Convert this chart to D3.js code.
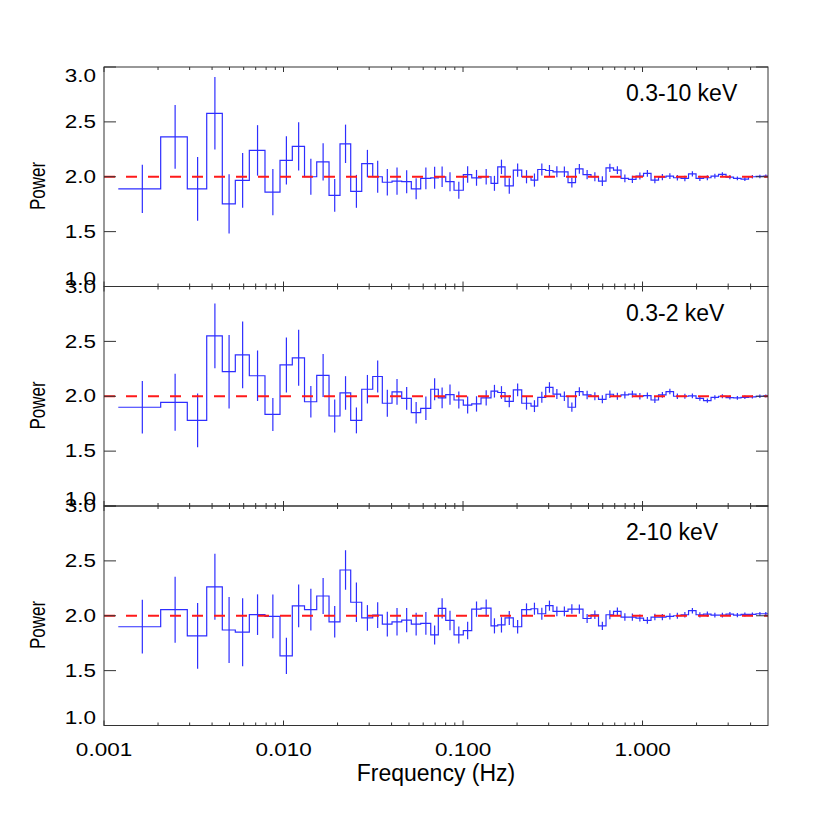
<!DOCTYPE html>
<html><head><meta charset="utf-8">
<script src="https://cdn.jsdelivr.net/npm/d3@7/dist/d3.min.js"></script>
<style>body{margin:0;background:#fff}svg{display:block}</style>
</head><body>
<svg id="c" width="830" height="830"></svg>
<script>
// Frequency bin edges (Hz), shared by all three panels
const binEdges = [0.001201, 0.002069, 0.002911, 0.003734, 0.004561, 0.005389, 0.006450, 0.007885, 0.009561, 0.011194,
  0.013092, 0.015311, 0.017930, 0.020641, 0.023678, 0.027271, 0.031406, 0.035521, 0.040225, 0.045551,
  0.051523, 0.058102, 0.066098, 0.072857, 0.080113, 0.089105, 0.10039, 0.11182, 0.12598, 0.14322,
  0.15609, 0.17140, 0.19063, 0.21232, 0.23923, 0.26073, 0.28888, 0.31721, 0.34934, 0.38459,
  0.42332, 0.46614, 0.51646, 0.56864, 0.62607, 0.68944, 0.75909, 0.83560, 0.92000, 1.0130,
  1.1152, 1.2279, 1.3519, 1.4884, 1.6386, 1.8043, 1.9866, 2.1866, 2.4078, 2.6508,
  2.9187, 3.2137, 3.5376, 3.8953, 4.2886, 4.7218, 5.0];

const panelLabels = ["0.3-10 keV", "0.3-2 keV", "2-10 keV"];

const power1 = [1.89, 2.364, 1.89, 2.578, 1.753, 1.967, 2.24, 1.86, 2.15, 2.277,
  2.0, 2.135, 1.83, 2.30, 1.867, 2.12, 2.0, 1.95, 1.96, 1.955,
  1.89, 1.985, 1.99, 2.0, 1.955, 1.877, 2.02, 1.99, 2.0, 1.94,
  2.09, 1.916, 2.06, 2.0, 1.97, 2.066, 2.057, 2.045, 2.045, 1.946,
  2.072, 2.02, 2.0, 1.96, 2.081, 2.06, 1.985, 1.976, 2.006, 2.03,
  1.97, 1.997, 2.006, 1.991, 1.985, 2.027, 1.985, 1.991, 2.006, 2.021,
  1.997, 1.985, 1.979, 2.0, 2.003, 2.006];
const err1 = [0.22, 0.29, 0.29, 0.33, 0.27, 0.25, 0.23, 0.21, 0.22, 0.22,
  0.163, 0.17, 0.15, 0.175, 0.15, 0.125, 0.145, 0.12, 0.125, 0.105,
  0.096, 0.10, 0.10, 0.093, 0.087, 0.078, 0.075, 0.072, 0.07, 0.068,
  0.066, 0.07, 0.06, 0.06, 0.06, 0.054, 0.05, 0.05, 0.048, 0.045,
  0.045, 0.042, 0.04, 0.045, 0.038, 0.036, 0.035, 0.034, 0.032, 0.031,
  0.03, 0.028, 0.027, 0.026, 0.025, 0.024, 0.023, 0.022, 0.021, 0.02,
  0.019, 0.018, 0.017, 0.016, 0.016, 0.015];

const power2 = [1.90, 1.945, 1.78, 2.55, 2.224, 2.377, 2.187, 1.834, 2.285, 2.35,
  1.95, 2.19, 1.82, 2.03, 1.78, 2.064, 2.18, 1.936, 2.04, 1.98,
  1.85, 1.89, 2.064, 1.985, 2.015, 1.966, 1.92, 1.93, 1.985, 2.046,
  2.034, 1.954, 2.058, 1.936, 1.91, 1.99, 2.08, 2.02, 2.0, 1.90,
  2.043, 2.012, 2.0, 1.972, 2.018, 2.0, 2.012, 2.02, 2.0, 2.006,
  1.966, 2.012, 2.043, 2.0, 2.0, 2.003, 1.98, 1.96, 1.99, 2.0,
  1.988, 1.985, 1.99, 1.994, 2.0, 2.003];
const err2 = [0.24, 0.26, 0.245, 0.295, 0.335, 0.305, 0.23, 0.15, 0.25, 0.255,
  0.144, 0.196, 0.15, 0.153, 0.118, 0.13, 0.146, 0.123, 0.117, 0.104,
  0.098, 0.107, 0.10, 0.095, 0.092, 0.077, 0.077, 0.07, 0.07, 0.058,
  0.058, 0.055, 0.058, 0.058, 0.054, 0.05, 0.048, 0.046, 0.044, 0.042,
  0.04, 0.039, 0.037, 0.036, 0.034, 0.033, 0.032, 0.031, 0.03, 0.028,
  0.027, 0.026, 0.025, 0.024, 0.023, 0.022, 0.021, 0.02, 0.019, 0.018,
  0.018, 0.017, 0.016, 0.015, 0.015, 0.014];

const power3 = [1.90, 2.055, 1.816, 2.264, 1.87, 1.85, 2.01, 1.994, 1.635, 2.09,
  2.055, 2.18, 1.945, 2.417, 2.123, 1.98, 2.006, 1.923, 1.945, 1.96,
  1.923, 1.93, 1.825, 2.067, 1.957, 1.825, 1.865, 2.06, 2.07, 1.908,
  1.917, 1.98, 1.90, 2.055, 2.064, 2.018, 2.092, 2.04, 2.04, 2.061,
  2.061, 1.975, 2.009, 1.908, 2.009, 2.04, 1.988, 1.988, 1.979, 1.957,
  1.988, 1.988, 1.994, 2.0, 2.009, 2.046, 2.009, 2.015, 2.006, 2.006,
  2.015, 2.006, 2.012, 2.012, 2.018, 2.018];
const err3 = [0.245, 0.30, 0.30, 0.30, 0.30, 0.31, 0.185, 0.20, 0.165, 0.195,
  0.19, 0.164, 0.144, 0.18, 0.18, 0.117, 0.117, 0.113, 0.126, 0.11,
  0.104, 0.104, 0.087, 0.092, 0.089, 0.077, 0.08, 0.07, 0.077, 0.069,
  0.07, 0.064, 0.061, 0.058, 0.055, 0.055, 0.046, 0.045, 0.044, 0.043,
  0.042, 0.04, 0.039, 0.038, 0.04, 0.035, 0.034, 0.033, 0.032, 0.031,
  0.03, 0.029, 0.028, 0.027, 0.026, 0.025, 0.024, 0.023, 0.022, 0.021,
  0.02, 0.019, 0.018, 0.018, 0.017, 0.016];

const modelLevel = 2.0;
const xMajorTicks = [0.001, 0.01, 0.1, 1];
const xTickLabels = ["0.001", "0.010", "0.100", "1.000"];
const xMinorTicks = [0.002, 0.003, 0.004, 0.005, 0.006, 0.007, 0.008, 0.009,
  0.02, 0.03, 0.04, 0.05, 0.06, 0.07, 0.08, 0.09,
  0.2, 0.3, 0.4, 0.5, 0.6, 0.7, 0.8, 0.9, 2, 3, 4];
const yTicks = [1.0, 1.5, 2.0, 2.5, 3.0];
const yTickLabels = ["1.0", "1.5", "2.0", "2.5", "3.0"];
const yTitle = "Power";
const xTitle = "Frequency (Hz)";

const panels = [
  {label: panelLabels[0], power: power1, err: err1},
  {label: panelLabels[1], power: power2, err: err2},
  {label: panelLabels[2], power: power3, err: err3}
];

const svg = d3.select("#c");
const L = 104, R = 768, T0 = 67, PH = 219.5;
const FONT = "'Liberation Sans', Arial, Helvetica, sans-serif";
const AX = "#333";
const BLUE = "#2e2eff";
const x = d3.scaleLog().domain([0.001, 5]).range([L, R]);

panels.forEach((p, i) => {
  const top = T0 + i * PH, bot = top + PH;
  const y = d3.scaleLinear().domain([1, 3]).range([bot, top]);
  const g = svg.append("g");

  // histogram (step) path
  const n = p.power.length;
  let d = "";
  for (let k = 0; k < n; k++) {
    const x0 = x(binEdges[k]), x1 = x(binEdges[k + 1]), yy = y(p.power[k]);
    d += (k === 0 ? "M" : "L") + x0 + "," + yy + "L" + x1 + "," + yy;
  }
  g.append("path").attr("d", d).attr("fill", "none")
    .attr("stroke", BLUE).attr("stroke-width", 1.2);

  // error bars at linear bin mid-frequency
  g.selectAll("line.err").data(p.power).enter().append("line")
    .attr("x1", (v, k) => x((binEdges[k] + binEdges[k + 1]) / 2))
    .attr("x2", (v, k) => x((binEdges[k] + binEdges[k + 1]) / 2))
    .attr("y1", (v, k) => y(v - p.err[k]))
    .attr("y2", (v, k) => y(v + p.err[k]))
    .attr("stroke", BLUE).attr("stroke-width", 1.2);

  // model line
  g.append("line").attr("x1", L).attr("x2", R)
    .attr("y1", y(modelLevel)).attr("y2", y(modelLevel))
    .attr("stroke", "#ff1a1a").attr("stroke-width", 2)
    .attr("stroke-dasharray", "11,11");

  // frame
  g.append("rect").attr("x", L).attr("y", top).attr("width", R - L).attr("height", PH)
    .attr("fill", "none").attr("stroke", AX).attr("stroke-width", 1);

  // x ticks (inward), bottom and top
  const xt = (vals, len) => {
    vals.forEach(v => {
      const xx = x(v);
      g.append("line").attr("x1", xx).attr("x2", xx).attr("y1", bot).attr("y2", bot - len)
        .attr("stroke", AX).attr("stroke-width", 1);
      g.append("line").attr("x1", xx).attr("x2", xx).attr("y1", top).attr("y2", top + len)
        .attr("stroke", AX).attr("stroke-width", 1);
    });
  };
  xt(xMajorTicks, 5);
  xt(xMinorTicks, 3);

  // y ticks (inward), left and right
  yTicks.forEach((v, k) => {
    const yy = y(v);
    g.append("line").attr("x1", L).attr("x2", L + 12).attr("y1", yy).attr("y2", yy)
      .attr("stroke", AX).attr("stroke-width", 1);
    g.append("line").attr("x1", R).attr("x2", R - 12).attr("y1", yy).attr("y2", yy)
      .attr("stroke", AX).attr("stroke-width", 1);
    // extreme labels are nudged inward as in the reference
    let dy = 0;
    if (k === 0) dy = -7.5;
    if (k === yTicks.length - 1) dy = (i === 0) ? 8.5 : 0;
    g.append("g").attr("transform", `translate(96,${yy + dy}) scale(1.25,1)`)
      .append("text").attr("x", 0).attr("y", 0)
      .attr("text-anchor", "end").attr("dominant-baseline", "central")
      .attr("font-family", FONT).attr("font-size", 18).attr("fill", "#000")
      .text(yTickLabels[k]);
  });

  // y title
  g.append("g").attr("transform", `translate(37,${top + 119}) scale(1.3,1) rotate(-90)`)
    .append("text").attr("text-anchor", "middle").attr("dominant-baseline", "central")
    .attr("font-family", FONT).attr("font-size", 17).attr("fill", "#000")
    .text(yTitle);

  // panel label
  g.append("text").attr("x", 626).attr("y", top + 34)
    .attr("font-family", FONT).attr("font-size", 23).attr("fill", "#000")
    .text(p.label);

  // bottom labels on the last panel
  if (i === panels.length - 1) {
    xMajorTicks.forEach((v, k) => {
      g.append("g").attr("transform", `translate(${x(v)},756) scale(1.25,1)`)
        .append("text").attr("text-anchor", "middle")
        .attr("font-family", FONT).attr("font-size", 18).attr("fill", "#000")
        .text(xTickLabels[k]);
    });
    g.append("text").attr("x", (L + R) / 2).attr("y", 781)
      .attr("text-anchor", "middle")
      .attr("font-family", FONT).attr("font-size", 23).attr("fill", "#000")
      .text(xTitle);
  }
});
</script>
</body></html>
